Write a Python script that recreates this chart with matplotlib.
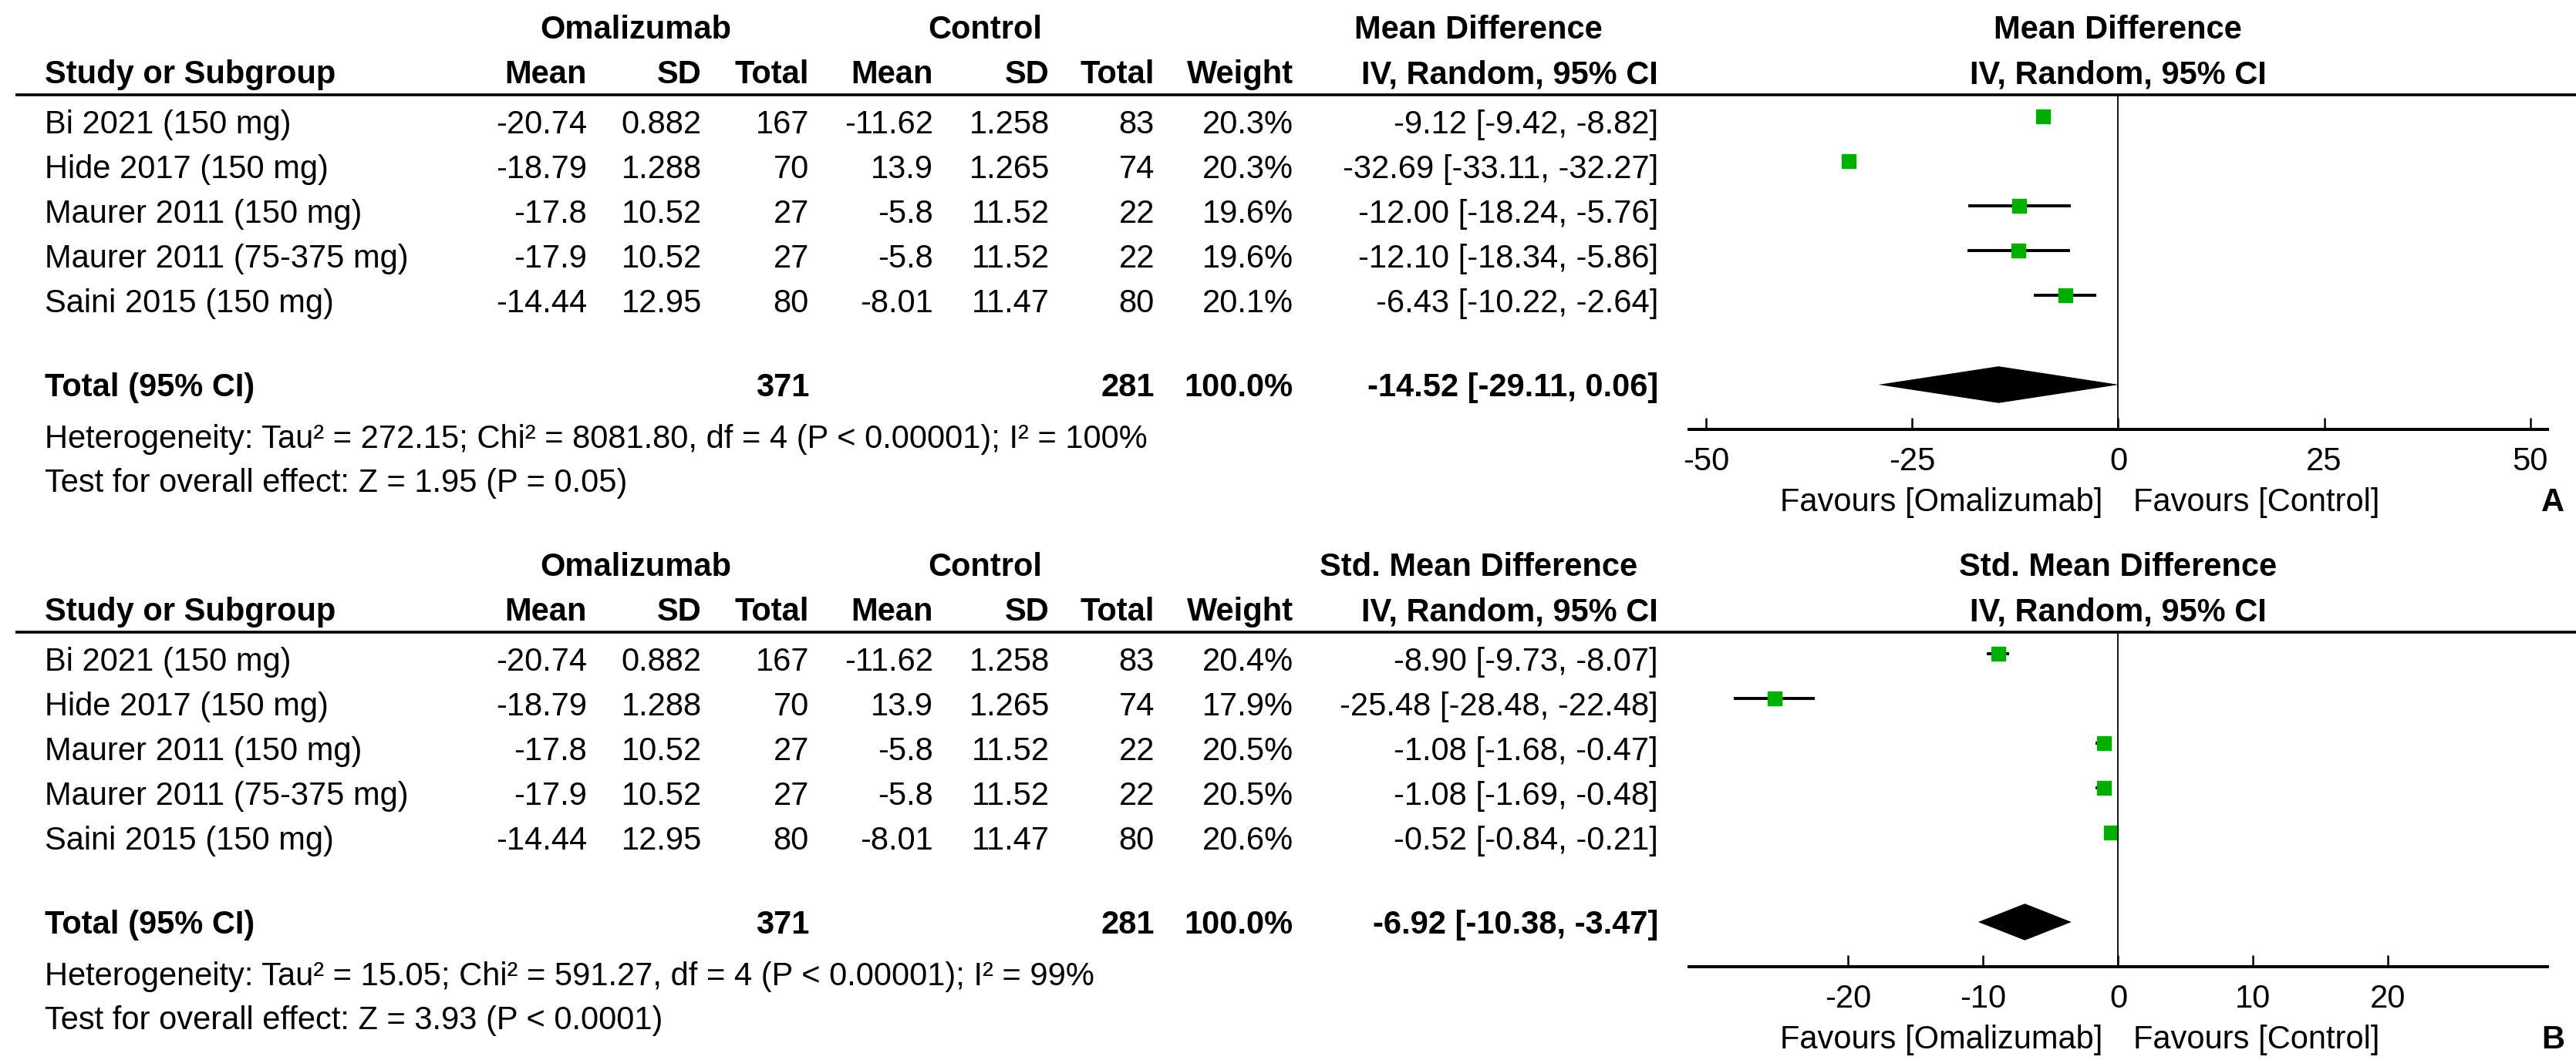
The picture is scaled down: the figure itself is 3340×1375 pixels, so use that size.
"""Forest plots: omalizumab vs control (A: mean difference, B: std. mean difference)."""

import matplotlib
matplotlib.use("Agg")
import matplotlib.pyplot as plt

plt.rcParams["font.family"] = ["Liberation Sans", "DejaVu Sans"]
plt.rcParams["axes.unicode_minus"] = False

# ---- data ----
studies = ["Bi 2021 (150 mg)", "Hide 2017 (150 mg)", "Maurer 2011 (150 mg)",
           "Maurer 2011 (75-375 mg)", "Saini 2015 (150 mg)"]
oma_mean = [-20.74, -18.79, -17.8, -17.9, -14.44]
oma_sd = [0.882, 1.288, 10.52, 10.52, 12.95]
oma_n = [167, 70, 27, 27, 80]
ctl_mean = [-11.62, 13.9, -5.8, -5.8, -8.01]
ctl_sd = [1.258, 1.265, 11.52, 11.52, 11.47]
ctl_n = [83, 74, 22, 22, 80]
oma_total = 371
ctl_total = 281

# panel A: mean difference
md_weight = [20.3, 20.3, 19.6, 19.6, 20.1]
md_est = [-9.12, -32.69, -12.00, -12.10, -6.43]
md_lo = [-9.42, -33.11, -18.24, -18.34, -10.22]
md_hi = [-8.82, -32.27, -5.76, -5.86, -2.64]
md_pooled = (-14.52, -29.11, 0.06)
md_ticks = [-50, -25, 0, 25, 50]
md_xlim = 52.1
md_het = "Heterogeneity: Tau² = 272.15; Chi² = 8081.80, df = 4 (P < 0.00001); I² = 100%"
md_test = "Test for overall effect: Z = 1.95 (P = 0.05)"

# panel B: standardised mean difference
smd_weight = [20.4, 17.9, 20.5, 20.5, 20.6]
smd_est = [-8.90, -25.48, -1.08, -1.08, -0.52]
smd_lo = [-9.73, -28.48, -1.68, -1.69, -0.84]
smd_hi = [-8.07, -22.48, -0.47, -0.48, -0.21]
smd_pooled = (-6.92, -10.38, -3.47)
smd_ticks = [-20, -10, 0, 10, 20]
smd_xlim = 31.8
smd_het = "Heterogeneity: Tau² = 15.05; Chi² = 591.27, df = 4 (P < 0.00001); I² = 99%"
smd_test = "Test for overall effect: Z = 3.93 (P < 0.0001)"

# ---- layout (pixels) ----
W, H = 3341, 1375
FS = 30
GREEN = "#00b000"
ROW_H = 58
AX_LEFT, AX_RIGHT = 2190, 3303
ZERO_X = 2746


def draw_panel(fig, bg, off, label, title, weight, est, lo, hi, pooled,
               ticks, xlim, het, test):
    def txt(x, y, s, ha="right", bold=False):
        bg.text(x, y + off, s, ha=ha, va="baseline", fontsize=FS,
                fontweight="bold" if bold else "normal", color="black")

    # headers
    txt(824, 50, "Omalizumab", ha="center", bold=True)
    txt(1277, 50, "Control", ha="center", bold=True)
    txt(1917, 50, title, ha="center", bold=True)
    txt(ZERO_X, 50, title, ha="center", bold=True)
    txt(58, 108, "Study or Subgroup", ha="left", bold=True)
    for x, s in [(761, "Mean"), (910, "SD"), (1049, "Total"), (1210, "Mean"),
                 (1361, "SD"), (1497, "Total"), (1677, "Weight"),
                 (2150, "IV, Random, 95% CI")]:
        txt(x, 108, s, bold=True)
    txt(ZERO_X, 108, "IV, Random, 95% CI", ha="center", bold=True)
    bg.plot([20, W], [123 + off, 123 + off], color="black", lw=2.6,
            solid_capstyle="butt")

    # study rows
    for i, name in enumerate(studies):
        y = 151 + i * ROW_H + 22
        txt(58, y, name, ha="left")
        txt(761, y, str(oma_mean[i]))
        txt(910, y, str(oma_sd[i]))
        txt(1049, y, str(oma_n[i]))
        txt(1210, y, str(ctl_mean[i]))
        txt(1361, y, str(ctl_sd[i]))
        txt(1497, y, str(ctl_n[i]))
        txt(1677, y, f"{weight[i]:.1f}%")
        txt(2150, y, f"{est[i]:.2f} [{lo[i]:.2f}, {hi[i]:.2f}]")

    # total row and footer
    y = 514
    txt(58, y, "Total (95% CI)", ha="left", bold=True)
    txt(1049, y, str(oma_total), bold=True)
    txt(1497, y, str(ctl_total), bold=True)
    txt(1677, y, "100.0%", bold=True)
    txt(2150, y, f"{pooled[0]:.2f} [{pooled[1]:.2f}, {pooled[2]:.2f}]", bold=True)
    txt(58, 581, het, ha="left")
    txt(58, 638, test, ha="left")
    txt(ZERO_X - 20, 663, "Favours [Omalizumab]")
    txt(ZERO_X + 20, 663, "Favours [Control]", ha="left")
    txt(3325, 663, label, bold=True)

    # forest plot axes
    top, bottom = 123 + off, 557 + off
    ax = fig.add_axes([AX_LEFT / W, 1 - bottom / H,
                       (AX_RIGHT - AX_LEFT) / W, (bottom - top) / H])
    ax.patch.set_alpha(0)
    ax.set_xlim(-xlim, xlim)
    ax.set_ylim(7.0, -0.48)

    rows = list(range(len(est)))
    ax.hlines(rows, lo, hi, color="black", lw=2.8)
    ax.plot(est, rows, "s", color=GREEN, mec=GREEN, ms=12.5, ls="none")
    p, pl, ph = pooled
    h = 0.41
    ax.fill([pl, p, ph, p], [6, 6 - h, 6, 6 + h], color="black", lw=0)
    ax.axvline(0, color="black", lw=1.3)

    for s in ["top", "left", "right"]:
        ax.spines[s].set_visible(False)
    ax.spines["bottom"].set_linewidth(2.9)
    ax.set_yticks([])
    ax.set_xticks(ticks)
    ax.set_xticklabels([str(t) for t in ticks])
    ax.tick_params(axis="x", direction="in", length=11, width=1.8,
                   pad=16, labelsize=FS)


fig = plt.figure(figsize=(W / 100, H / 100), dpi=100)
bg = fig.add_axes([0, 0, 1, 1])
bg.set_xlim(0, W)
bg.set_ylim(H, 0)
bg.axis("off")

draw_panel(fig, bg, 0, "A", "Mean Difference", md_weight, md_est, md_lo, md_hi,
           md_pooled, md_ticks, md_xlim, md_het, md_test)
draw_panel(fig, bg, 697, "B", "Std. Mean Difference", smd_weight, smd_est, smd_lo,
           smd_hi, smd_pooled, smd_ticks, smd_xlim, smd_het, smd_test)

fig.savefig("out.png", dpi=100)
